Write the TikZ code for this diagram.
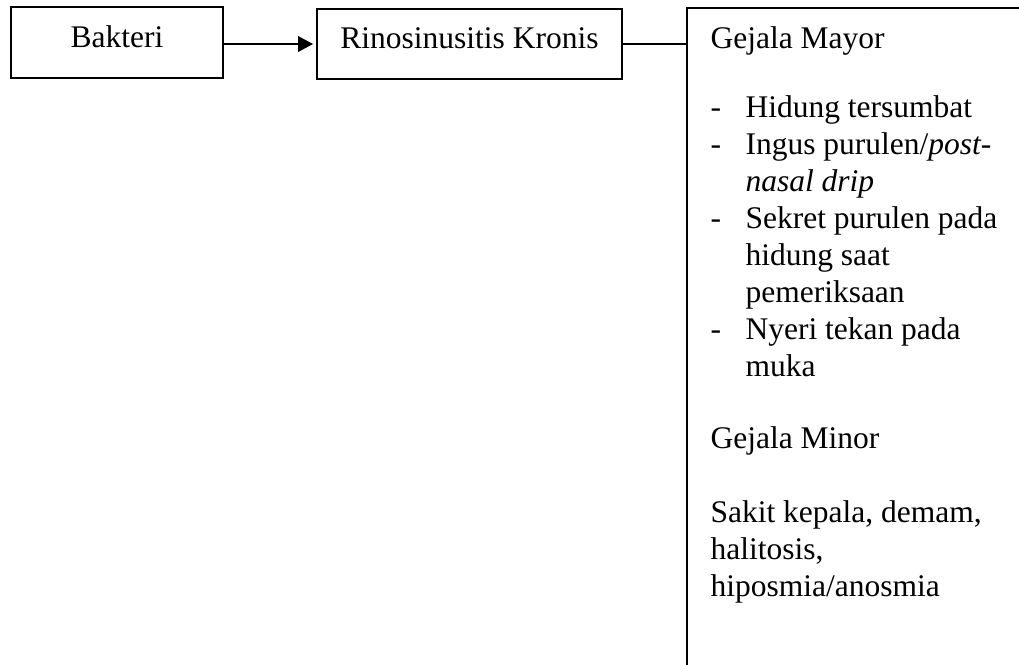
\documentclass[tikz,border=0pt]{standalone}
\usepackage{fontspec}
\setmainfont{Liberation Serif}
\usetikzlibrary{arrows.meta}
\begin{document}
\begin{tikzpicture}[x=0.38095pt,y=-0.38095pt,
  font=\fontsize{12}{14}\selectfont,
  box/.style={draw, line width=0.75pt, rectangle, inner sep=0pt, outer sep=0pt, text height=0.7em, text depth=0.33em},
  ln/.style={anchor=base west, inner sep=0pt},
  conn/.style={line width=0.75pt}]
\useasboundingbox (0,0) rectangle (1019,664);
\clip (0,0) rectangle (1019,664);
\fill[white] (0,0) rectangle (1019,664);
% boxes
\node[box, minimum width=80.76pt, minimum height=27.05pt] (bak) at (117,42.5) {Bakteri};
\node[box, minimum width=116.19pt, minimum height=26.67pt] (rino) at (469.5,44) {Rinosinusitis Kronis};
\node[draw, line width=0.75pt, rectangle, inner sep=0pt, outer sep=0pt, minimum width=134.5pt, minimum height=259.8pt] (gejala) at (863.5,349) {};
% connectors
\draw[conn, -{Triangle[length=5.7pt,width=5.9pt]}, shorten >=1.5pt] (bak.east |- rino.west) -- (rino.west);
\draw[conn] (rino.east) -- (rino.east -| gejala.west);
% texts
\node[ln] (t1) at (710,48) {Gejala Mayor};
\node[ln] (d1) at (710,117) {-};
\node[ln] (t2) at (745,117) {Hidung tersumbat};
\node[ln] (d2) at (710,154) {-};
\node[ln] (t3) at (745,154) {Ingus purulen/\textit{post-}};
\node[ln] (t4) at (745,191) {\textit{nasal drip}};
\node[ln] (d3) at (710,228) {-};
\node[ln] (t5) at (745,228) {Sekret purulen pada};
\node[ln] (t6) at (745,265) {hidung saat};
\node[ln] (t7) at (745,302) {pemeriksaan};
\node[ln] (d4) at (710,339) {-};
\node[ln] (t8) at (745,339) {Nyeri tekan pada};
\node[ln] (t9) at (745,376) {muka};
\node[ln] (t10) at (710,448) {Gejala Minor};
\node[ln] (t11) at (710,522) {Sakit kepala, demam,};
\node[ln] (t12) at (710,559) {halitosis,};
\node[ln] (t13) at (710,596) {hiposmia/anosmia};
\end{tikzpicture}
\end{document}
